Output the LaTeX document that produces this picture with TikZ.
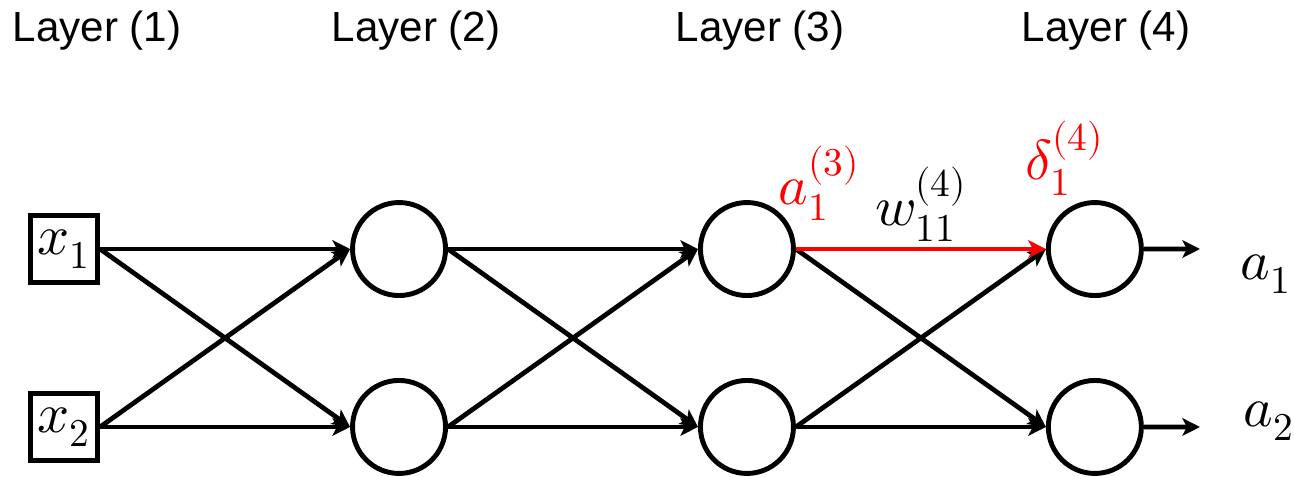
\documentclass[tikz,border=0pt]{standalone}
\usepackage{amsmath}
\usepackage{unicode-math}
\setmathfont{Latin Modern Math}
\newfontfamily\layerfont{Liberation Sans}
\usetikzlibrary{matrix,arrows.meta}

\tikzset{
  unit/.style={circle,draw,line width=2.8pt,minimum size=1.86cm,inner sep=0pt,anchor=center},
  inbox/.style={rectangle,draw,line width=2.8pt,minimum size=1.34cm,inner sep=0pt},
  conn/.style={line width=2.7pt,-{Stealth[length=10pt,width=10pt,inset=2.5pt]}},
  layerlbl/.style={font=\layerfont\fontsize{24}{28}\selectfont,anchor=base},
  mathlbl/.style={font=\fontsize{32}{38}\selectfont},
}

\begin{document}
\begin{tikzpicture}
  \useasboundingbox (0,0) rectangle (25.88,-9.54);
  \matrix (m) [matrix of math nodes,row sep=1.6cm,column sep=5cm,
    nodes in empty cells,nodes={unit,mathlbl}] at (11.72,-6.76)
  {
     |[inbox]| x_1 & & & \\
     |[inbox]| x_2 & & & \\};

  \node[layerlbl] (l1) at (1.94,-0.84) {Layer (1)};
  \node[layerlbl] (l2) at (8.32,-0.84) {Layer (2)};
  \node[layerlbl] (l3) at (15.2,-0.84) {Layer (3)};
  \node[layerlbl] (l4) at (22.12,-0.84) {Layer (4)};

  \coordinate (o1) at (24.0,-4.98);
  \coordinate (o2) at (24.0,-8.54);

  \path[conn]
    (m-1-1.east) edge (m-1-2.west)
                 edge (m-2-2.west)
    (m-2-1.east) edge (m-1-2.west)
                 edge (m-2-2.west)
    (m-1-2.east) edge (m-1-3.west)
                 edge (m-2-3.west)
    (m-2-2.east) edge (m-1-3.west)
                 edge (m-2-3.west)
    (m-1-3.east) edge (m-2-4.west)
    (m-2-3.east) edge (m-1-4.west)
                 edge (m-2-4.west)
    (m-1-3.east) edge [red] node [above=3pt,inner sep=0pt,mathlbl,black] {$w_{11}^{(4)}$} (m-1-4.west)
    (m-1-4.east) edge (o1)
    (m-2-4.east) edge (o2);

  \node[mathlbl,red,inner sep=0pt,anchor=base west] (act) at (15.56,-4.1) {$a_1^{(3)}$};
  \node[mathlbl,red,inner sep=0pt,anchor=base west] (err) at (20.5,-3.6) {$\delta_1^{(4)}$};
  \node[mathlbl,inner sep=0pt,anchor=base west] (y1) at (24.8,-5.6) {$a_1$};
  \node[mathlbl,inner sep=0pt,anchor=base west] (y2) at (24.86,-8.54) {$a_2$};
\end{tikzpicture}
\end{document}
